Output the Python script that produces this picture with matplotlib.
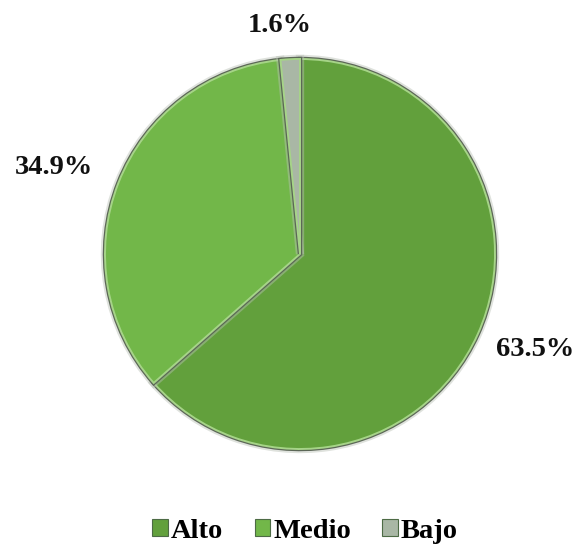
import numpy as np
import matplotlib
matplotlib.use("Agg")
import matplotlib.pyplot as plt
from matplotlib.patches import Patch
import matplotlib.patheffects as pe

categories = ["Alto", "Medio", "Bajo"]
percentages = [63.5, 34.9, 1.6]
colors = ["#62a03c", "#72b749", "#a9b7a5"]
label_dist = [1.30, 1.336, 1.174]
label_turn = 2.1  # degrees, nudges labels counter-clockwise off the bisector

W, H = 581, 550
fig = plt.figure(figsize=(W / 100, H / 100), dpi=100)
ax = fig.add_axes([0, 0, 1, 1])

cx, cy, R = 300, H - 254, 195

wedges, _ = ax.pie(
    percentages,
    colors=colors,
    startangle=90,
    counterclock=False,
    radius=R,
    center=(cx, cy),
    explode=[0.008, 0.02, 0.02],
    wedgeprops=dict(edgecolor="#a6d488", linewidth=1.4),
    frame=True,
)
# bevelled rim: soft grey halo, dark outline, light inner edge
for w in wedges:
    w.set_path_effects([
        pe.Stroke(linewidth=6, foreground="#b8c0b4", alpha=0.45),
        pe.Stroke(linewidth=3.2, foreground="#5c6757"),
        pe.Normal(),
    ])
ax.set_xlim(0, W)
ax.set_ylim(0, H)
ax.set_aspect("equal")
ax.axis("off")

font = dict(family=["Liberation Serif", "DejaVu Serif"], weight="bold", size=20.5)

# Percentage labels placed outside each slice
start = 90.0
for val, d in zip(percentages, label_dist):
    mid = start - val * 3.6 / 2 + label_turn
    start -= val * 3.6
    ang = np.deg2rad(mid)
    x = cx + R * d * np.cos(ang)
    y = cy + R * d * np.sin(ang)
    ax.text(x, y, f"{val:.1f}%", ha="center", va="center", color="#111111", **font)

handles = [Patch(facecolor=c, edgecolor="#4d6b45", linewidth=0.8) for c in colors]
leg = fig.legend(
    handles, categories, loc="center", bbox_to_anchor=(0.525, 1 - 531 / H),
    ncol=3, frameon=False, prop=dict(family="Liberation Serif", weight="bold", size=20.5),
    handlelength=0.55, handleheight=0.55, handletextpad=0.1, columnspacing=1.1,
)

fig.savefig("out.png", dpi=100, facecolor="white")
